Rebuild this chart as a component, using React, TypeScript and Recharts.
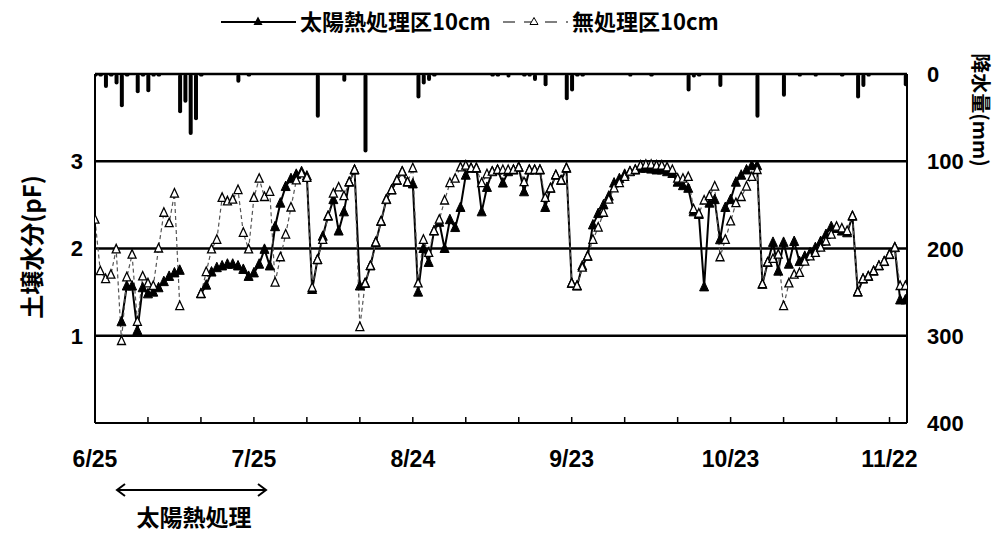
import { ComposedChart, Line, Bar, XAxis, YAxis, ReferenceLine } from 'recharts';

// days since 6/25
const dayTicks = [0, 10, 20, 30, 40, 50, 60, 70, 80, 90, 100, 110, 120, 130, 140, 150];
const dateLabels = ['6/25', '7/25', '8/24', '9/23', '10/23', '11/22'];
const pfTicks = [1, 2, 3];
const rainTicks = [0, 100, 200, 300, 400];

// 太陽熱処理区10cm (pF)
const treated = [
  null, null, null, null, null, 1.16, 1.57, 1.57, 1.06, 1.55,
  1.48, 1.5, 1.55, 1.62, 1.68, 1.72, 1.75, null, null, null,
  1.48, 1.58, 1.73, 1.78, 1.8, 1.82, 1.82, 1.8, 1.76, 1.68,
  1.72, 1.82, 1.99, 1.8, 2.25, 2.52, 2.71, 2.8, 2.85, 2.88,
  2.83, 1.53, 1.87, 2.14, 2.37, 2.56, 2.2, 2.42, 2.76, 2.9,
  1.57, 1.6, 1.8, 2.07, 2.31, 2.56, 2.67, 2.78, 2.88, 2.76,
  2.74, 1.5, 2.0, 1.84, 2.2, 2.3, 2.0, 2.33, 2.24, 2.47,
  2.84, 2.92, 2.92, 2.42, 2.7, 2.88, 2.9, 2.75, 2.88, 2.9,
  2.93, 2.65, 2.9, 2.9, 2.9, 2.47, 2.69, 2.84, 2.78, 2.92,
  1.6, 1.57, 1.8, 1.91, 2.27, 2.4, 2.5, 2.6, 2.75, 2.8,
  2.85, 2.88, 2.9, 2.92, 2.92, 2.91, 2.9, 2.9, 2.88, 2.86,
  2.76, 2.72, 2.69, 2.42, 2.39, 1.56, 2.52, 2.56, 2.1, 2.47,
  2.56, 2.76, 2.84, 2.9, 2.95, 2.95, 1.59, 1.84, 2.07, 1.74,
  2.07, 1.82, 2.08, 1.85, 1.91, 1.95, 2.01, 2.08, 2.16, 2.25,
  2.23, 2.2, 2.18, 2.37, 1.5, 1.65, 1.68, 1.74, 1.8, 1.85,
  1.93, 2.01, 1.41, 1.41,
];

// 無処理区10cm (pF)
const untreated = [
  2.33, 1.74, 1.65, 1.7, 1.99, 0.94, 1.67, 1.93, 1.16, 1.68,
  1.6, 1.57, 2.0, 2.41, 2.29, 2.63, 1.34, null, null, null,
  1.48, 1.73, 1.99, 2.1, 2.58, 2.54, 2.56, 2.67, 2.18, 1.99,
  2.58, 2.8, 2.59, 2.65, 1.61, 1.9, 2.16, 2.47, 2.78, 2.86,
  2.81, 1.55, 1.87, 2.1, 2.37, 2.63, 2.7, 2.6, 2.76, 2.9,
  1.1, 1.6, 1.8, 2.07, 2.31, 2.56, 2.67, 2.78, 2.88, 2.76,
  2.92, 1.6, 2.1, 1.95, 2.2, 2.33, 2.55, 2.75, 2.8, 2.93,
  2.95, 2.92, 2.92, 2.75, 2.85, 2.88, 2.9, 2.9, 2.9, 2.9,
  2.93, 2.76, 2.9, 2.9, 2.9, 2.58, 2.69, 2.84, 2.78, 2.92,
  1.6, 1.57, 1.78, 1.91, 2.1, 2.24, 2.41, 2.56, 2.69, 2.75,
  2.82, 2.88, 2.9, 2.95, 2.96, 2.96, 2.95, 2.95, 2.93, 2.9,
  2.8, 2.8, 2.82, 2.45, 2.4, 2.55, 2.6, 2.71, 1.9, 2.1,
  2.31, 2.52, 2.59, 2.71, 2.82, 2.9, 1.59, 1.84, 1.88, 1.93,
  1.34, 1.6, 1.7, 1.72, 1.85, 1.91, 1.95, 2.01, 2.08, 2.16,
  2.25, 2.23, 2.2, 2.37, 1.5, 1.65, 1.68, 1.74, 1.8, 1.85,
  1.93, 2.01, 1.57, 1.57,
];

// 降水量 (mm)
const rain = [
  3, 3, 16, 3, 12, 38, 3, 0, 22, 3,
  21, 3, 3, 0, 0, 0, 45, 33, 70, 53,
  3, 0, 0, 0, 0, 0, 0, 10, 0, 3,
  0, 0, 0, 0, 0, 0, 0, 0, 0, 0,
  0, 0, 50, 0, 0, 0, 0, 9, 0, 0,
  0, 90, 0, 0, 0, 0, 0, 0, 0, 0,
  0, 28, 12, 8, 3, 0, 0, 0, 0, 0,
  0, 0, 0, 0, 0, 3, 3, 0, 4, 0,
  0, 3, 3, 8, 0, 14, 0, 0, 0, 30,
  20, 3, 3, 0, 0, 0, 0, 0, 0, 0,
  0, 3, 0, 0, 0, 3, 0, 0, 0, 0,
  0, 0, 20, 4, 3, 0, 0, 0, 15, 0,
  0, 0, 0, 0, 0, 50, 0, 0, 0, 0,
  26, 0, 0, 3, 0, 0, 3, 0, 0, 0,
  0, 3, 0, 0, 28, 15, 3, 0, 0, 0,
  0, 0, 0, 14,
];

const data = treated.map((t, i) => ({
  day: i,
  treated: t,
  untreated: untreated[i],
  rain: rain[i],
}));

const numFont = "'Liberation Sans', Arial, sans-serif";
const jpFont = "'Noto Sans CJK JP', 'Noto Sans CJK SC', sans-serif";

const FilledTri = (props: any) => {
  const { cx, cy, index, value } = props;
  if (value == null || cy == null) return <g key={`t${index}`} />;
  return (
    <polygon
      key={`t${index}`}
      points={`${cx},${cy - 5.5} ${cx - 4.5},${cy + 4} ${cx + 4.5},${cy + 4}`}
      fill="#000"
      stroke="#000"
      strokeWidth={1}
    />
  );
};

const OpenTri = (props: any) => {
  const { cx, cy, index, value } = props;
  if (value == null || cy == null) return <g key={`u${index}`} />;
  return (
    <polygon
      key={`u${index}`}
      points={`${cx},${cy - 5} ${cx - 4},${cy + 3.5} ${cx + 4},${cy + 3.5}`}
      fill="#fff"
      stroke="#000"
      strokeWidth={1.3}
    />
  );
};

const DayTick = (props: any) => {
  const { x, y, payload } = props;
  const v = payload.value;
  return (
    <g>
      {v > 0 && v < 153 && <line x1={x} x2={x} y1={y} y2={y - 6} stroke="#000" strokeWidth={1.5} />}
      {v % 30 === 0 && (
        <text x={x} y={y + 44} textAnchor="middle" fontFamily={numFont} fontWeight="bold" fontSize={23} fill="#000">
          {dateLabels[v / 30]}
        </text>
      )}
    </g>
  );
};

const RainTick = (props: any) => {
  const { x, y, payload } = props;
  return (
    <text x={x + 20} y={y + 8} textAnchor="start" fontFamily={numFont} fontWeight="bold" fontSize={22} fill="#000">
      {payload.value}
    </text>
  );
};

const App = () => {
  return (
    <div style={{ position: 'absolute', left: 0, top: 0, width: 1005, height: 534, background: '#fff' }}>
      <ComposedChart width={1005} height={534} data={data} margin={{ top: 74, right: 38, bottom: 71, left: 35 }}>
        <XAxis
          dataKey="day"
          type="number"
          domain={[0, 153.3]}
          allowDataOverflow
          ticks={dayTicks}
          interval={0}
          tick={<DayTick />}
          tickLine={false}
          tickSize={0}
          tickMargin={0}
          height={40}
          axisLine={{ stroke: '#000', strokeWidth: 2 }}
        />
        <YAxis
          yAxisId="pf"
          domain={[0, 4]}
          ticks={pfTicks}
          width={60}
          tickLine={false}
          tickSize={0}
          tickMargin={12}
          axisLine={{ stroke: '#000', strokeWidth: 2 }}
          tick={{ fontFamily: numFont, fontWeight: 'bold', fontSize: 22, fill: '#000' }}
        />
        <YAxis
          yAxisId="rain"
          orientation="right"
          reversed
          domain={[0, 400]}
          ticks={rainTicks}
          width={60}
          tickLine={false}
          tickSize={0}
          tickMargin={0}
          axisLine={{ stroke: '#000', strokeWidth: 2 }}
          tick={<RainTick />}
        />
        {pfTicks.map((v) => (
          <ReferenceLine key={v} yAxisId="pf" y={v} stroke="#000" strokeWidth={2.5} />
        ))}
        <ReferenceLine yAxisId="pf" y={4} stroke="#000" strokeWidth={2.5} />
        <Bar yAxisId="rain" dataKey="rain" barSize={4} fill="#000" radius={2} isAnimationActive={false} />
        <Line
          yAxisId="pf"
          dataKey="treated"
          type="linear"
          stroke="#000"
          strokeWidth={2}
          dot={<FilledTri />}
          activeDot={false}
          connectNulls={false}
          isAnimationActive={false}
        />
        <Line
          yAxisId="pf"
          dataKey="untreated"
          type="linear"
          stroke="#555"
          strokeWidth={1.2}
          strokeDasharray="4 3"
          dot={<OpenTri />}
          activeDot={false}
          connectNulls={false}
          isAnimationActive={false}
        />
      </ComposedChart>

      <svg width={1005} height={534} style={{ position: 'absolute', left: 0, top: 0, pointerEvents: 'none' }}>
        {/* legend */}
        <line x1={221} x2={296} y1={22} y2={22} stroke="#000" strokeWidth={2} />
        <polygon points="258,16.5 253.5,25 262.5,25" fill="#000" />
        <text x={300} y={30} fontFamily={jpFont} fontWeight="bold" fontSize={22} fill="#000">太陽熱処理区10cm</text>
        <line x1={503} x2={568} y1={22} y2={22} stroke="#555" strokeWidth={1.5} strokeDasharray="12 9" />
        <polygon points="534,17.5 530,24.5 538,24.5" fill="#fff" stroke="#000" strokeWidth={1} />
        <text x={572} y={30} fontFamily={jpFont} fontWeight="bold" fontSize={22} fill="#000">無処理区10cm</text>

        {/* axis titles */}
        <text
          x={30}
          y={247}
          transform="rotate(-90, 30, 247)"
          textAnchor="middle"
          dominantBaseline="central"
          fontFamily={jpFont}
          fontWeight="bold"
          fontSize={24}
          fill="#000"
        >
          土壌水分(pF)
        </text>
        <text
          x={981}
          y={110}
          transform="rotate(90, 981, 110)"
          textAnchor="middle"
          dominantBaseline="central"
          fontFamily={jpFont}
          fontWeight="bold"
          fontSize={20}
          fill="#000"
        >
          降水量(mm)
        </text>

        {/* treatment period */}
        <line x1={117} x2={266} y1={490} y2={490} stroke="#000" strokeWidth={2} />
        <polyline points="125,484 117,490 125,496" fill="none" stroke="#000" strokeWidth={2} />
        <polyline points="258,484 266,490 258,496" fill="none" stroke="#000" strokeWidth={2} />
        <text x={194} y={526} textAnchor="middle" fontFamily={jpFont} fontWeight="bold" fontSize={23} fill="#000">
          太陽熱処理
        </text>
      </svg>
    </div>
  );
};

export default App;
